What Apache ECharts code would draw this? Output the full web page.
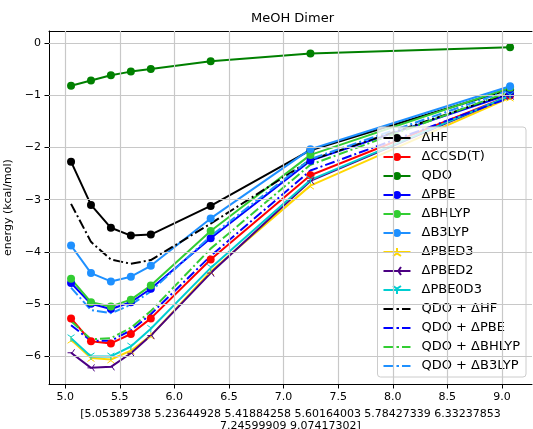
<!DOCTYPE html>
<html>
<head>
<meta charset="utf-8">
<script src="https://cdn.jsdelivr.net/npm/echarts@6/dist/echarts.min.js"></script>
<style>
  html, body { margin: 0; padding: 0; background: #ffffff; }
  #chart { width: 533px; height: 429px; }
</style>
</head>
<body>
<div id="chart"></div>
<script>
// Intermolecular separations (x) and interaction energies in kcal/mol
const xValues = [5.05389738, 5.23644928, 5.41884258, 5.60164003, 5.78427339, 6.33237853, 7.24599909, 9.07417302];

const dHF        = [-2.27, -3.10, -3.54, -3.69, -3.67, -3.12, -2.05, -0.88];
const dCCSDT     = [-5.28, -5.72, -5.76, -5.58, -5.28, -4.15, -2.53, -1.00];
const qdo        = [-0.81, -0.71, -0.61, -0.54, -0.49, -0.34, -0.19, -0.07];
const dPBE       = [-4.60, -5.00, -5.10, -4.97, -4.71, -3.74, -2.25, -0.97];
const dBHLYP     = [-4.52, -4.97, -5.05, -4.92, -4.65, -3.60, -2.14, -0.85];
const dB3LYP     = [-3.88, -4.41, -4.57, -4.48, -4.27, -3.36, -2.03, -0.82];
const dPBED3     = [-5.69, -6.04, -6.07, -5.90, -5.61, -4.38, -2.73, -1.04];
const dPBED2     = [-5.94, -6.23, -6.21, -5.95, -5.61, -4.41, -2.64, -1.01];
const dPBE0D3    = [-5.66, -6.01, -6.01, -5.82, -5.48, -4.31, -2.62, -1.00];
const qdoHF      = [-3.08, -3.81, -4.15, -4.23, -4.16, -3.46, -2.24, -0.95];
const qdoPBE     = [-5.41, -5.71, -5.71, -5.51, -5.20, -4.08, -2.44, -1.04];
const qdoBHLYP   = [-5.33, -5.68, -5.66, -5.46, -5.14, -3.94, -2.33, -0.92];
const qdoB3LYP   = [-4.69, -5.12, -5.18, -5.02, -4.76, -3.70, -2.22, -0.89];

const xTicks = [5.0, 5.5, 6.0, 6.5, 7.0, 7.5, 8.0, 8.5, 9.0];
const yTicks = [-6, -5, -4, -3, -2, -1, 0];

const FONT = 'DejaVu Sans';
const X_RANGE = [4.852, 9.275];
const Y_RANGE = [-6.54, 0.24];

// Tri-style markers drawn as open strokes
const TRI_UP = 'path://M10 10 L10 0 M10 10 L1.34 15 M10 10 L18.66 15';
const TRI_DOWN = 'path://M10 10 L10 20 M10 10 L1.34 5 M10 10 L18.66 5';
const TRI_LEFT = 'path://M10 10 L0 10 M10 10 L15 1.34 M10 10 L15 18.66';
// Legend handle for dash-dot lines
const DASHDOT_ICON = 'path://M0 0 H10 V2 H0 Z M13 0 H15.5 V2 H13 Z M18.5 0 H27 V2 H18.5 Z';

function pairs(ys) { return xValues.map((x, i) => [x, ys[i]]); }

function solid(name, ys, color) {
  return {
    name, type: 'line', data: pairs(ys),
    symbol: 'circle', symbolSize: 8,
    lineStyle: { color, width: 2 },
    itemStyle: { color },
    z: 3
  };
}
function tri(name, ys, color, sym) {
  return {
    name, type: 'line', data: pairs(ys),
    symbol: sym, symbolSize: 7,
    lineStyle: { color, width: 2 },
    itemStyle: { color, borderColor: color, borderWidth: 1 },
    z: 3
  };
}
function dashdot(name, ys, color) {
  return {
    name, type: 'line', data: pairs(ys),
    symbol: 'none',
    lineStyle: { color, width: 2, type: [10, 3, 2, 3] },
    itemStyle: { color },
    z: 3
  };
}

const series = [
  solid('ΔHF', dHF, '#000000'),
  solid('ΔCCSD(T)', dCCSDT, '#ff0000'),
  solid('QDO', qdo, '#008000'),
  solid('ΔPBE', dPBE, '#0000ff'),
  solid('ΔBHLYP', dBHLYP, '#32cd32'),
  solid('ΔB3LYP', dB3LYP, '#1e90ff'),
  tri('ΔPBED3', dPBED3, '#ffd700', TRI_UP),
  tri('ΔPBED2', dPBED2, '#4b0082', TRI_LEFT),
  tri('ΔPBE0D3', dPBE0D3, '#00ced1', TRI_DOWN),
  dashdot('QDO + ΔHF', qdoHF, '#000000'),
  dashdot('QDO + ΔPBE', qdoPBE, '#0000ff'),
  dashdot('QDO + ΔBHLYP', qdoBHLYP, '#32cd32'),
  dashdot('QDO + ΔB3LYP', qdoB3LYP, '#1e90ff')
];

const legendData = series.map(s => (s.symbol === 'none' ? { name: s.name, icon: DASHDOT_ICON } : { name: s.name }));

// Background grid lines at the tick positions (carried by an invisible helper series)
const gridSeries = {
  name: 'grid', type: 'line', data: pairs(qdo).slice(0, 1),
  symbol: 'none', silent: true, z: 1,
  lineStyle: { opacity: 0 },
  markLine: {
    silent: true, symbol: ['none', 'none'], animation: false,
    label: { show: false },
    emphasis: { disabled: true },
    lineStyle: { color: '#c8c8c8', width: 1.2, type: 'solid' },
    data: xTicks.map(v => ({ xAxis: v })).concat(yTicks.map(v => ({ yAxis: v })))
  }
};

// numpy-style array text used as the x-axis label
const xLabelText = '[' + xValues.slice(0, 6).map(v => v.toFixed(8)).join(' ') + '\n' +
  xValues.slice(6).map(v => v.toFixed(8)).join(' ') + ']';

const fmtMinus = v => (v < 0 ? '\u2212' + Math.abs(v) : String(v));

const chart = echarts.init(document.getElementById('chart'), null, { renderer: 'canvas' });
chart.setOption({
  animation: false,
  backgroundColor: '#ffffff',
  textStyle: { fontFamily: FONT },
  grid: {
    left: 49, right: 1, top: 31, bottom: 45,
    outerBoundsMode: 'none', containLabel: false, show: false
  },
  graphic: [{
    type: 'text', left: 291 - 40, top: 12,
    style: { text: 'MeOH Dimer', font: '13px "DejaVu Sans"', fill: '#000000' }
  }],
  xAxis: [{
    type: 'value', min: X_RANGE[0], max: X_RANGE[1], position: 'bottom',
    splitNumber: 9, minInterval: 0.5, maxInterval: 0.5,
    name: xLabelText, nameLocation: 'middle', nameGap: 18,
    nameTextStyle: { fontFamily: FONT, fontSize: 11, color: '#000', lineHeight: 12, verticalAlign: 'top' },
    axisLine: { show: true, onZero: false, lineStyle: { color: '#000', width: 1 } },
    axisTick: { show: true, length: 4.5, inside: false, lineStyle: { color: '#000' }, customValues: xTicks },
    axisLabel: {
      color: '#000', fontFamily: FONT, fontSize: 11, margin: 8,
      customValues: xTicks,
      formatter: v => v.toFixed(1)
    },
    splitLine: { show: false }
  }, {
    // top frame edge
    type: 'value', min: X_RANGE[0], max: X_RANGE[1], position: 'top',
    axisLine: { show: true, onZero: false, lineStyle: { color: '#000', width: 1 } },
    axisTick: { show: false }, axisLabel: { show: false }, splitLine: { show: false }
  }],
  yAxis: {
    type: 'value', min: Y_RANGE[0], max: Y_RANGE[1],
    splitNumber: 7, minInterval: 1, maxInterval: 1,
    name: 'energy (kcal/mol)', nameLocation: 'middle', nameGap: 30, nameRotate: 90,
    nameTextStyle: { fontFamily: FONT, fontSize: 11, color: '#000' },
    axisLine: { show: true, onZero: false, lineStyle: { color: '#000', width: 1 } },
    axisTick: { show: true, length: 4.5, inside: false, lineStyle: { color: '#000' }, customValues: yTicks },
    axisLabel: {
      color: '#000', fontFamily: FONT, fontSize: 11, margin: 8,
      customValues: yTicks,
      formatter: fmtMinus
    },
    splitLine: { show: false }
  },
  legend: {
    orient: 'vertical', right: 7, top: 127,
    itemWidth: 27, itemHeight: 10, itemGap: 5,
    padding: [4, 6, 4, 5],
    backgroundColor: 'rgba(255,255,255,0.8)',
    borderColor: '#cccccc', borderWidth: 1, borderRadius: 3,
    textStyle: { fontFamily: FONT, fontSize: 13, color: '#000', lineHeight: 14, padding: [0, 0, 0, 6] },
    data: legendData
  },
  series: [gridSeries].concat(series)
});
</script>
</body>
</html>
